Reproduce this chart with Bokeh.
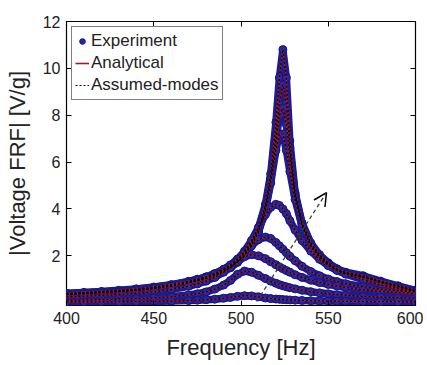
from bokeh.plotting import figure
from bokeh.models import (ColumnDataSource, FixedTicker, LinearAxis, Range1d, Arrow,
                          OpenHead, Legend, LegendItem)
from bokeh.embed import file_html
from bokeh.resources import INLINE

freq = [400, 410, 420, 430, 440, 450, 460, 470, 475, 480, 485, 490, 494, 498, 502, 506, 510,
        514, 517, 520, 522, 524, 526, 528, 531, 535, 540, 545, 550, 555, 560, 570, 580, 590, 600]

c1 = [0.38, 0.42, 0.46, 0.51, 0.57, 0.65, 0.76, 0.9, 0.99, 1.1, 1.24, 1.42, 1.6, 1.85, 2.15, 2.6, 3.2,
      4.2, 5.5, 7.7, 9.6, 10.8, 9.6, 6.9, 4.7, 3.4, 2.55, 2.05, 1.7, 1.45, 1.3, 1.15, 0.92, 0.72, 0.52]
c2 = [0.37, 0.41, 0.45, 0.49, 0.55, 0.63, 0.74, 0.87, 0.96, 1.07, 1.2, 1.38, 1.55, 1.8, 2.09, 2.52, 3.1,
      4.1, 5.3, 7.1, 8.5, 9.3, 8.5, 6.6, 4.6, 3.35, 2.5, 2.0, 1.66, 1.42, 1.27, 1.12, 0.9, 0.7, 0.51]
c3 = [0.36, 0.4, 0.44, 0.48, 0.54, 0.62, 0.72, 0.86, 0.94, 1.05, 1.18, 1.35, 1.52, 1.76, 2.04, 2.47, 3.05,
      4.0, 5.2, 6.8, 8.0, 8.3, 7.6, 6.3, 4.6, 3.3, 2.45, 1.97, 1.64, 1.4, 1.25, 1.1, 0.88, 0.69, 0.5]
c4 = [0.35, 0.39, 0.43, 0.47, 0.53, 0.6, 0.71, 0.84, 0.92, 1.02, 1.15, 1.32, 1.49, 1.72, 2.0, 2.42, 3.0,
      3.95, 5.1, 6.5, 7.2, 7.2, 6.5, 5.6, 4.4, 3.25, 2.4, 1.93, 1.61, 1.38, 1.23, 1.08, 0.86, 0.67, 0.49]
c5 = [0.4, 0.44, 0.48, 0.53, 0.59, 0.67, 0.77, 0.91, 1.0, 1.1, 1.24, 1.42, 1.6, 1.85, 2.2, 2.65, 3.2,
      3.76, 4.07, 4.2, 4.15, 4.0, 3.8, 3.5, 3.1, 2.65, 2.2, 1.85, 1.58, 1.38, 1.22, 0.98, 0.76, 0.6, 0.48]
c6 = [0.34, 0.37, 0.41, 0.46, 0.52, 0.6, 0.7, 0.85, 0.95, 1.07, 1.22, 1.41, 1.61, 1.85, 2.13, 2.43, 2.69,
      2.8, 2.74, 2.57, 2.43, 2.28, 2.13, 1.98, 1.79, 1.55, 1.33, 1.15, 1.01, 0.9, 0.81, 0.68, 0.58, 0.51, 0.45]
c7 = [0.25, 0.275, 0.31, 0.35, 0.4, 0.46, 0.56, 0.7, 0.8, 0.92, 1.08, 1.3, 1.51, 1.75, 1.96, 2.05, 2.0,
      1.88, 1.75, 1.62, 1.53, 1.45, 1.37, 1.3, 1.19, 1.08, 0.96, 0.86, 0.78, 0.71, 0.65, 0.55, 0.485, 0.43, 0.385]
c8 = [0.106, 0.117, 0.131, 0.149, 0.173, 0.205, 0.25, 0.33, 0.38, 0.46, 0.58, 0.75, 0.95, 1.21, 1.35, 1.3, 1.17,
      1.03, 0.92, 0.83, 0.77, 0.72, 0.68, 0.64, 0.59, 0.53, 0.47, 0.42, 0.38, 0.34, 0.32, 0.27, 0.24, 0.21, 0.19]
c9 = [0.03, 0.033, 0.036, 0.04, 0.046, 0.055, 0.068, 0.09, 0.105, 0.125, 0.15, 0.19, 0.225, 0.27, 0.3, 0.29, 0.25,
      0.2, 0.175, 0.155, 0.143, 0.133, 0.125, 0.117, 0.107, 0.096, 0.085, 0.076, 0.069, 0.063, 0.058, 0.05, 0.044, 0.04, 0.036]

curves = [c1, c2, c3, c4, c5, c6, c7, c8, c9]

y_ticks = [2, 4, 6, 8, 10, 12]
x_ticks = [400, 450, 500, 550, 600]

arrow_start = (509, 0.05)
arrow_end = (549, 4.7)

FONT = "Liberation Sans"

p = figure(frame_width=349, frame_height=284, output_backend="svg", toolbar_location=None,
           x_range=Range1d(400, 600), y_range=Range1d(-0.12, 12),
           min_border_left=66, min_border_right=8, min_border_top=21, min_border_bottom=56)
p.background_fill_color = "white"
p.border_fill_color = "white"
p.outline_line_color = "black"
p.outline_line_width = 1.2
p.grid.visible = False

src = ColumnDataSource(dict(freq=freq, **{f"c{i+1}": c for i, c in enumerate(curves)}))

band_color = "#1b1b92"
exp_renderers = []
for i in range(len(curves)):
    col = f"c{i+1}"
    p.line("freq", col, source=src, line_color=band_color, line_width=7.5)
    r = p.scatter("freq", col, source=src, size=8, marker="circle",
                  fill_color="#2626a4", line_color="#14147e", line_width=1)
    exp_renderers.append(r)

red_renderers = []
for i in range(len(curves)):
    col = f"c{i+1}"
    r = p.line("freq", col, source=src, line_color="#9a1a30", line_width=1.6)
    red_renderers.append(r)

dot_renderers = []
for i in range(len(curves)):
    col = f"c{i+1}"
    r = p.line("freq", col, source=src, line_color="black", line_width=1.2, line_dash="2 2")
    dot_renderers.append(r)

p.add_layout(Arrow(end=OpenHead(size=13, line_color="black", line_width=1.5),
                   x_start=arrow_start[0], y_start=arrow_start[1],
                   x_end=arrow_end[0], y_end=arrow_end[1],
                   line_color="#3b4520", line_width=1.3, line_dash="4 3"))

# axes styling
for ax in [p.xaxis[0], p.yaxis[0]]:
    ax.major_tick_in = 5
    ax.major_tick_out = 0
    ax.minor_tick_line_color = None
    ax.axis_line_color = None
    ax.major_label_text_font = FONT
    ax.major_label_text_font_size = "16px"
    ax.major_label_text_color = "#222222"
    ax.axis_label_text_font = FONT
    ax.axis_label_text_font_size = "22px"
    ax.axis_label_text_font_style = "normal"
    ax.axis_label_text_color = "#222222"

p.xaxis[0].ticker = FixedTicker(ticks=x_ticks)
p.yaxis[0].ticker = FixedTicker(ticks=y_ticks)
p.xaxis[0].axis_label = "Frequency [Hz]"
p.yaxis[0].axis_label = "|Voltage FRF| [V/g]"
p.xaxis[0].major_label_standoff = 6
p.yaxis[0].major_label_standoff = 6
p.xaxis[0].axis_label_standoff = 8
p.yaxis[0].axis_label_standoff = 10

top = LinearAxis(ticker=FixedTicker(ticks=x_ticks), major_tick_in=5, major_tick_out=0,
                 minor_tick_line_color=None, axis_line_color=None,
                 major_label_overrides={t: "" for t in x_ticks},
                 major_label_standoff=0, major_label_text_font_size="2px")
right = LinearAxis(ticker=FixedTicker(ticks=y_ticks), major_tick_in=5, major_tick_out=0,
                   minor_tick_line_color=None, axis_line_color=None,
                   major_label_overrides={t: "" for t in y_ticks},
                   major_label_standoff=0, major_label_text_font_size="2px")
p.add_layout(top, "above")
p.add_layout(right, "right")

legend = Legend(items=[LegendItem(label="Experiment", renderers=[exp_renderers[0]]),
                       LegendItem(label="Analytical", renderers=[red_renderers[0]]),
                       LegendItem(label="Assumed-modes", renderers=[dot_renderers[0]])],
                location="top_left", margin=5, padding=3, spacing=0,
                glyph_width=14, glyph_height=22, label_height=22, label_standoff=2,
                label_text_font=FONT, label_text_font_size="17px", label_text_color="#222222",
                border_line_color="black", border_line_width=1.5,
                background_fill_color="white", background_fill_alpha=1.0)
p.add_layout(legend)

open("out.html", "w").write(file_html(p, INLINE))
